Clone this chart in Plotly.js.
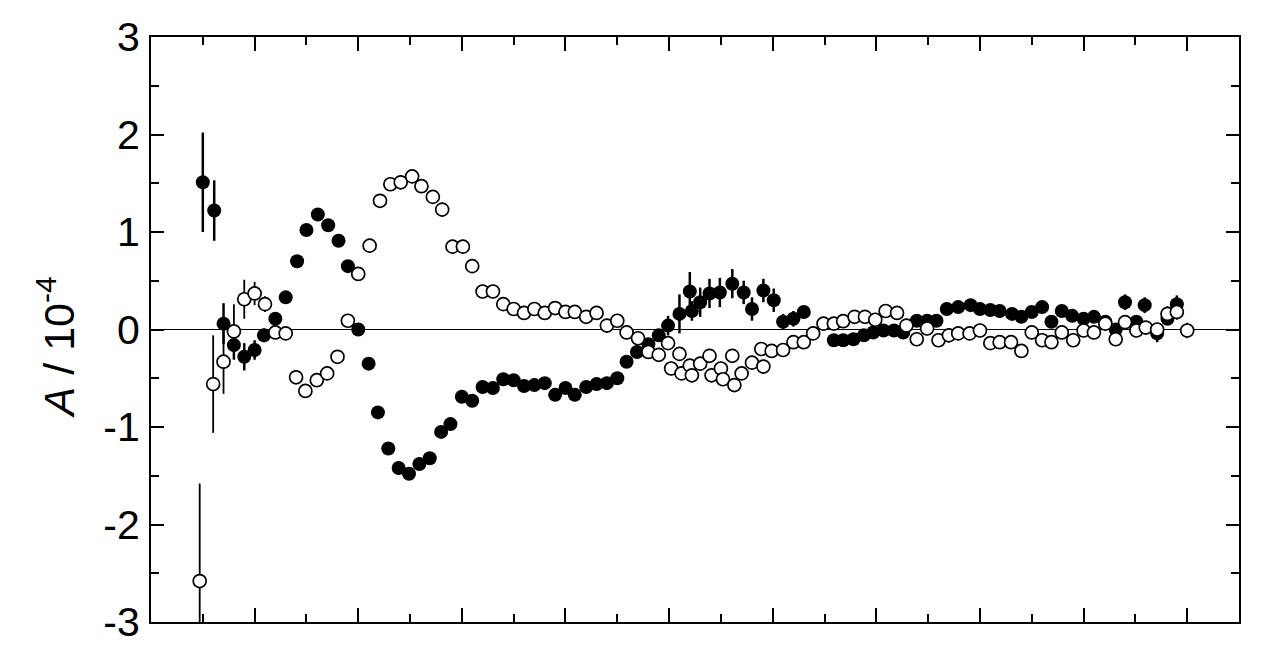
<!DOCTYPE html>
<html>
<head>
<meta charset="utf-8">
<script src="https://cdn.plot.ly/plotly-3.0.1.min.js"></script>
<style>html,body{margin:0;padding:0;background:#fff;}#chart{width:1280px;height:649px;}</style>
</head>
<body>
<div id="chart"></div>
<script>
// Filled circles
const filledX = [0.50,0.61,0.70,0.80,0.90,1.00,1.09,1.20,1.30,1.41,1.50,1.61,1.71,1.81,1.90,2.00,2.10,2.19,2.29,2.39,2.49,2.59,2.69,2.80,2.89,3.00,3.10,3.20,3.30,3.40,3.50,3.60,3.70,3.80,3.90,4.00,4.09,4.20,4.30,4.40,4.50,4.59,4.69,4.80,4.90,4.99,5.10,5.20,5.22,5.30,5.39,5.49,5.61,5.72,5.80,5.91,6.01,6.10,6.20,6.30,6.59,6.68,6.78,6.88,6.97,7.07,7.17,7.26,7.39,7.49,7.58,7.68,7.79,7.91,8.00,8.10,8.19,8.31,8.40,8.50,8.60,8.69,8.79,8.89,9.00,9.10,9.21,9.31,9.40,9.51,9.59,9.71,9.81,9.90];
const filledY = [1.51,1.22,0.06,-0.16,-0.28,-0.21,-0.06,0.11,0.33,0.70,1.02,1.18,1.07,0.91,0.65,0.00,-0.35,-0.85,-1.22,-1.42,-1.48,-1.38,-1.32,-1.05,-0.97,-0.69,-0.73,-0.59,-0.60,-0.51,-0.52,-0.58,-0.57,-0.55,-0.67,-0.60,-0.67,-0.59,-0.56,-0.55,-0.50,-0.33,-0.23,-0.15,-0.06,0.04,0.16,0.39,0.19,0.28,0.37,0.38,0.47,0.38,0.21,0.40,0.30,0.08,0.11,0.18,-0.11,-0.11,-0.10,-0.06,-0.03,-0.01,-0.01,-0.03,0.09,0.09,0.09,0.21,0.23,0.25,0.21,0.20,0.19,0.16,0.13,0.18,0.23,0.08,0.19,0.14,0.11,0.13,0.08,0.00,0.28,0.08,0.25,-0.04,0.11,0.26];
const filledErr = [0.51,0.31,0.21,0.15,0.14,0.10,0.07,0.06,0.06,0.05,0.05,0.05,0.05,0.05,0.05,0.05,0.05,0.05,0.05,0.05,0.05,0.05,0.05,0.05,0.05,0.05,0.05,0.05,0.05,0.05,0.05,0.05,0.05,0.05,0.05,0.05,0.05,0.05,0.05,0.05,0.05,0.05,0.05,0.05,0.06,0.10,0.20,0.20,0.10,0.15,0.15,0.15,0.15,0.12,0.12,0.12,0.12,0.08,0.08,0.06,0.05,0.05,0.05,0.05,0.05,0.05,0.05,0.05,0.05,0.05,0.05,0.05,0.05,0.05,0.05,0.05,0.05,0.05,0.05,0.05,0.05,0.05,0.05,0.05,0.05,0.05,0.05,0.05,0.08,0.05,0.08,0.09,0.05,0.09];

// Open circles
const openX = [0.47,0.60,0.70,0.80,0.90,1.00,1.10,1.20,1.30,1.40,1.49,1.60,1.70,1.80,1.90,2.00,2.11,2.21,2.31,2.41,2.52,2.61,2.72,2.81,2.91,3.01,3.10,3.20,3.30,3.40,3.50,3.60,3.70,3.80,3.90,4.00,4.09,4.20,4.30,4.40,4.50,4.59,4.70,4.80,4.90,4.99,5.02,5.10,5.12,5.20,5.22,5.30,5.39,5.41,5.50,5.52,5.61,5.63,5.70,5.80,5.89,5.91,5.99,6.10,6.20,6.30,6.39,6.49,6.59,6.68,6.79,6.89,6.99,7.09,7.20,7.29,7.39,7.49,7.60,7.70,7.79,7.90,8.00,8.10,8.19,8.30,8.40,8.50,8.60,8.69,8.79,8.90,9.00,9.10,9.21,9.31,9.40,9.51,9.60,9.71,9.81,9.90,10.00];
const openY = [-2.58,-0.56,-0.33,-0.02,0.31,0.37,0.26,-0.03,-0.04,-0.49,-0.63,-0.52,-0.45,-0.28,0.09,0.57,0.86,1.32,1.49,1.51,1.57,1.47,1.36,1.23,0.85,0.85,0.65,0.39,0.39,0.26,0.21,0.17,0.21,0.17,0.22,0.18,0.18,0.13,0.17,0.04,0.09,-0.03,-0.09,-0.23,-0.26,-0.14,-0.40,-0.25,-0.45,-0.37,-0.47,-0.35,-0.27,-0.47,-0.40,-0.51,-0.27,-0.57,-0.45,-0.34,-0.20,-0.38,-0.22,-0.21,-0.13,-0.13,-0.04,0.06,0.06,0.085,0.13,0.13,0.10,0.19,0.17,0.04,-0.10,0.01,-0.11,-0.06,-0.04,-0.04,-0.01,-0.14,-0.13,-0.13,-0.22,-0.03,-0.11,-0.13,-0.03,-0.11,-0.01,-0.03,0.06,-0.10,0.075,-0.01,0.02,0.00,0.16,0.18,-0.01];
const openErr = [1.00,0.50,0.33,0.28,0.20,0.12,0.08,0.07,0.07,0.07,0.07,0.07,0.07,0.07,0.07,0.07,0.07,0.07,0.07,0.07,0.07,0.07,0.07,0.07,0.07,0.07,0.07,0.07,0.07,0.07,0.07,0.07,0.07,0.07,0.07,0.07,0.07,0.07,0.07,0.07,0.07,0.07,0.07,0.07,0.07,0.07,0.07,0.07,0.07,0.07,0.07,0.07,0.07,0.07,0.07,0.07,0.07,0.07,0.07,0.07,0.07,0.07,0.07,0.07,0.07,0.07,0.07,0.07,0.07,0.07,0.07,0.07,0.07,0.07,0.07,0.07,0.07,0.07,0.07,0.07,0.07,0.07,0.07,0.07,0.07,0.07,0.07,0.07,0.07,0.07,0.07,0.07,0.07,0.07,0.07,0.07,0.07,0.07,0.07,0.07,0.08,0.08,0.08];

const yTickVals = [-3,-2,-1,0,1,2,3];
const yTickText = ['-3','-2','-1','0','1','2','3'];
const yTitle = '<i>A</i> / 10<sup>-4</sup>';

const FONT = 'Liberation Sans, Arial, Helvetica, sans-serif';

const traces = [
  {
    x: filledX, y: filledY, type: 'scatter', mode: 'markers',
    marker: {symbol: 'circle', size: 14, color: '#000', line: {width: 0}},
    error_y: {type: 'data', array: filledErr, visible: true, color: '#000', thickness: 2.5, width: 0},
    hoverinfo: 'x+y', showlegend: false
  },
  {
    x: openX, y: openY, type: 'scatter', mode: 'markers',
    marker: {symbol: 'circle', size: 13, color: '#fff', line: {width: 1.7, color: '#000'}},
    error_y: {type: 'data', array: openErr, visible: true, color: '#000', thickness: 1.8, width: 0},
    hoverinfo: 'x+y', showlegend: false
  }
];

const layout = {
  width: 1280, height: 649,
  margin: {l: 151, r: 41, t: 37, b: 27, pad: 0},
  paper_bgcolor: '#fff', plot_bgcolor: '#fff',
  font: {family: FONT, color: '#000', size: 40},
  showlegend: false,
  xaxis: {
    range: [0, 10.5], showticklabels: false,
    ticks: 'inside', ticklen: 14, tickwidth: 2, tickcolor: '#000',
    tickmode: 'linear', tick0: 0, dtick: 1,
    minor: {ticks: 'inside', ticklen: 8, tickwidth: 2, tickcolor: '#000', tickmode: 'linear', tick0: 0, dtick: 0.5, showgrid: false},
    showline: true, linewidth: 2, linecolor: '#000', mirror: 'ticks',
    showgrid: false, zeroline: false
  },
  yaxis: {
    range: [-3, 3],
    tickmode: 'array', tickvals: yTickVals, ticktext: yTickText,
    ticks: 'inside', ticklen: 13, tickwidth: 2, tickcolor: '#000',
    minor: {ticks: 'inside', ticklen: 8, tickwidth: 2, tickcolor: '#000', tickmode: 'linear', tick0: 0, dtick: 0.5, showgrid: false},
    tickfont: {size: 41, family: FONT, color: '#000'},
    ticklabelstandoff: 1,
    showline: true, linewidth: 2, linecolor: '#000', mirror: 'ticks',
    showgrid: false, zeroline: true, zerolinecolor: '#000', zerolinewidth: 1.5
  },
  annotations: [{
    text: yTitle, xref: 'paper', yref: 'paper',
    x: -0.087, y: 0.47, xanchor: 'center', yanchor: 'middle',
    textangle: -90, showarrow: false,
    font: {size: 43, family: FONT, color: '#000'}
  }]
};

Plotly.newPlot('chart', traces, layout, {displayModeBar: false, staticPlot: true});
</script>
</body>
</html>
